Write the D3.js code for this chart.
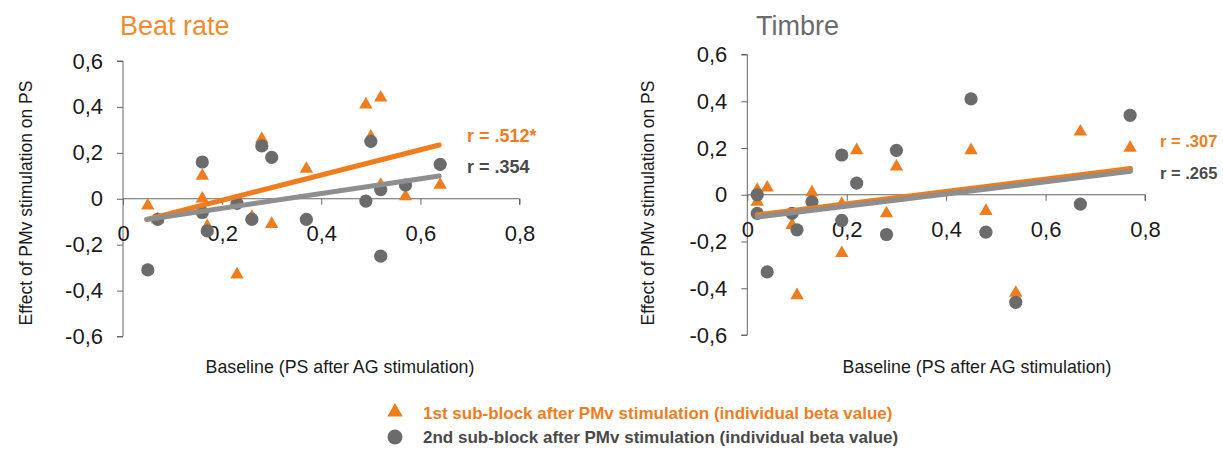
<!DOCTYPE html>
<html>
<head>
<meta charset="utf-8">
<script src="https://cdn.jsdelivr.net/npm/d3@7"></script>
<style>
  html, body { margin: 0; padding: 0; background: #fff; }
  svg { display: block; }
  text { font-family: "Liberation Sans", Arial, sans-serif; }
</style>
</head>
<body>
<svg id="chart" width="1223" height="451"></svg>
<script>
// ---------- data ----------
const xTicks = [0, 0.2, 0.4, 0.6, 0.8];
const yTicks = [-0.6, -0.4, -0.2, 0, 0.2, 0.4, 0.6];
const xTickLabels = ["0", "0,2", "0,4", "0,6", "0,8"];
const yTickLabels = ["-0,6", "-0,4", "-0,2", "0", "0,2", "0,4", "0,6"];

// Beat rate – 1st sub-block (triangles)
const beatX1 = [0.05, 0.07, 0.16, 0.16, 0.17, 0.23, 0.26, 0.28, 0.30, 0.37, 0.49, 0.50, 0.52, 0.52, 0.57, 0.64];
const beatY1 = [-0.03, -0.09, 0.10, 0.00, -0.12, -0.33, -0.08, 0.26, -0.11, 0.13, 0.41, 0.27, 0.44, 0.06, 0.01, 0.06];
// Beat rate – 2nd sub-block (circles)
const beatX2 = [0.05, 0.07, 0.16, 0.16, 0.17, 0.23, 0.26, 0.28, 0.30, 0.37, 0.49, 0.50, 0.52, 0.52, 0.57, 0.64];
const beatY2 = [-0.31, -0.09, 0.16, -0.06, -0.14, -0.02, -0.09, 0.23, 0.18, -0.09, -0.01, 0.25, 0.04, -0.25, 0.06, 0.15];
// Beat rate – fitted lines (start/end)
const beatFitX = [0.048, 0.638];
const beatFit1 = [-0.09, 0.234];
const beatFit2 = [-0.09, 0.099];

// Timbre – 1st sub-block (triangles)
const timbreX1 = [0.02, 0.02, 0.04, 0.09, 0.10, 0.13, 0.19, 0.19, 0.22, 0.28, 0.30, 0.45, 0.48, 0.54, 0.67, 0.77];
const timbreY1 = [0.02, -0.03, 0.03, -0.13, -0.43, 0.01, -0.04, -0.25, 0.19, -0.08, 0.12, 0.19, -0.07, -0.42, 0.27, 0.20];
// Timbre – 2nd sub-block (circles)
const timbreX2 = [0.02, 0.02, 0.04, 0.09, 0.10, 0.13, 0.19, 0.19, 0.22, 0.28, 0.30, 0.45, 0.48, 0.54, 0.67, 0.77];
const timbreY2 = [0.00, -0.08, -0.33, -0.08, -0.15, -0.03, 0.17, -0.11, 0.05, -0.17, 0.19, 0.41, -0.16, -0.46, -0.04, 0.34];
// Timbre – fitted lines
const timbreFitX = [0.02, 0.771];
const timbreFit1 = [-0.086, 0.112];
const timbreFit2 = [-0.095, 0.100];

const titles = ["Beat rate", "Timbre"];
const rLabels1 = ["r = .512*", "r = .307"];
const rLabels2 = ["r = .354", "r = .265"];
const yAxisTitle = "Effect of PMv stimulation on PS";
const xAxisTitle = "Baseline (PS after AG stimulation)";
const legendLabels = ["1st sub-block after PMv stimulation (individual beta value)",
                      "2nd sub-block after PMv stimulation (individual beta value)"];

// ---------- styles ----------
const ORANGE = "#EF7D1E";
const GRAY_PT = "#6B6B6B";
const GRAY_LINE = "#8E8E8E";
const AXIS = "#666";

const svg = d3.select("#chart");
svg.append("rect").attr("width", 1223).attr("height", 451).attr("fill", "#fff");

const panels = [
  { title: titles[0], titleColor: "#F28A2E", titleX: 120,
    x0: 123, x1: 519.5, yTop: 61, yBot: 336.5,
    tx1: beatX1, ty1: beatY1, cx2: beatX2, cy2: beatY2,
    fitX: beatFitX, fit1: beatFit1, fit2: beatFit2,
    r1: rLabels1[0], r2: rLabels2[0], rX: 467, rY1: 136, rY2: 167, rSize: 18,
    yLabX: 26, xLabX: 340 },
  { title: titles[1], titleColor: "#6B6B6B", titleX: 756,
    x0: 747.3, x1: 1145, yTop: 54.5, yBot: 335,
    tx1: timbreX1, ty1: timbreY1, cx2: timbreX2, cy2: timbreY2,
    fitX: timbreFitX, fit1: timbreFit1, fit2: timbreFit2,
    r1: rLabels1[1], r2: rLabels2[1], rX: 1160, rY1: 141, rY2: 173, rSize: 16.5,
    yLabX: 648, xLabX: 977 }
];

panels.forEach(p => {
  const x = d3.scaleLinear().domain([0, 0.8]).range([p.x0, p.x1]);
  const y = d3.scaleLinear().domain([-0.6, 0.6]).range([p.yBot, p.yTop]);
  const g = svg.append("g");

  // title
  g.append("text").attr("x", p.titleX).attr("y", 35)
    .attr("font-size", 27).attr("fill", p.titleColor).text(p.title);

  // y axis
  const yAxis = d3.axisLeft(y).tickValues(yTicks)
    .tickFormat((d, i) => yTickLabels[i]).tickSize(6).tickPadding(14);
  const ya = g.append("g").attr("transform", `translate(${p.x0},0)`).call(yAxis);
  ya.select(".domain").attr("stroke", AXIS).attr("d", `M-6,${p.yTop}H0V${p.yBot}H-6`);
  ya.selectAll(".tick line").attr("stroke", AXIS);
  ya.selectAll(".tick text").attr("font-size", 22).attr("fill", "#1a1a1a")
    .attr("font-family", "'Liberation Sans', Arial, sans-serif");

  // x axis at y = 0
  const xAxis = d3.axisBottom(x).tickValues(xTicks)
    .tickFormat((d, i) => xTickLabels[i]).tickSize(6).tickPadding(21);
  const xa = g.append("g").attr("transform", `translate(0,${y(0)})`).call(xAxis);
  xa.select(".domain").attr("stroke", AXIS).attr("d", `M${p.x0},0H${p.x1}V6`);
  xa.selectAll(".tick line").attr("stroke", AXIS);
  xa.selectAll(".tick text").attr("font-size", 22).attr("fill", "#1a1a1a")
    .attr("font-family", "'Liberation Sans', Arial, sans-serif");

  // axis titles
  g.append("text")
    .attr("transform", `translate(${p.yLabX},${203}) rotate(-90)`)
    .attr("text-anchor", "middle").attr("dominant-baseline", "central")
    .attr("font-size", 17.5).attr("fill", "#1a1a1a").text(yAxisTitle);
  g.append("text").attr("x", p.xLabX).attr("y", 373)
    .attr("text-anchor", "middle")
    .attr("font-size", 17.8).attr("fill", "#1a1a1a").text(xAxisTitle);

  // triangles (1st sub-block)
  const tri = d3.symbol().type(d3.symbolTriangle).size(78);
  g.append("g").selectAll("path").data(p.tx1.map((v, i) => [v, p.ty1[i]]))
    .join("path")
    .attr("d", tri)
    .attr("transform", d => `translate(${x(d[0])},${y(d[1])})`)
    .attr("fill", ORANGE);

  // circles (2nd sub-block)
  g.append("g").selectAll("circle").data(p.cx2.map((v, i) => [v, p.cy2[i]]))
    .join("circle")
    .attr("cx", d => x(d[0])).attr("cy", d => y(d[1])).attr("r", 6.6)
    .attr("fill", GRAY_PT);

  // fitted lines
  const line = d3.line().x(d => x(d[0])).y(d => y(d[1]));
  g.append("path").datum(p.fitX.map((v, i) => [v, p.fit1[i]]))
    .attr("d", line).attr("fill", "none").attr("stroke", ORANGE)
    .attr("stroke-width", 5).attr("stroke-linecap", "round");
  g.append("path").datum(p.fitX.map((v, i) => [v, p.fit2[i]]))
    .attr("d", line).attr("fill", "none").attr("stroke", GRAY_LINE)
    .attr("stroke-width", 5).attr("stroke-linecap", "round");

  // r labels
  g.append("text").attr("x", p.rX).attr("y", p.rY1).attr("dominant-baseline", "central")
    .attr("font-size", p.rSize).attr("font-weight", "bold").attr("fill", ORANGE).text(p.r1);
  g.append("text").attr("x", p.rX).attr("y", p.rY2).attr("dominant-baseline", "central")
    .attr("font-size", p.rSize).attr("font-weight", "bold").attr("fill", "#4A4A4A").text(p.r2);
});

// legend
const lg = svg.append("g");
lg.append("path").attr("d", d3.symbol().type(d3.symbolTriangle).size(105))
  .attr("transform", "translate(395,412)").attr("fill", ORANGE);
lg.append("circle").attr("cx", 395).attr("cy", 437).attr("r", 7.5).attr("fill", GRAY_PT);
lg.append("text").attr("x", 423).attr("y", 413).attr("dominant-baseline", "central")
  .attr("font-size", 17).attr("font-weight", "bold").attr("fill", ORANGE).text(legendLabels[0]);
lg.append("text").attr("x", 423).attr("y", 437).attr("dominant-baseline", "central")
  .attr("font-size", 17).attr("font-weight", "bold").attr("fill", "#4A4A4A").text(legendLabels[1]);
</script>
</body>
</html>
